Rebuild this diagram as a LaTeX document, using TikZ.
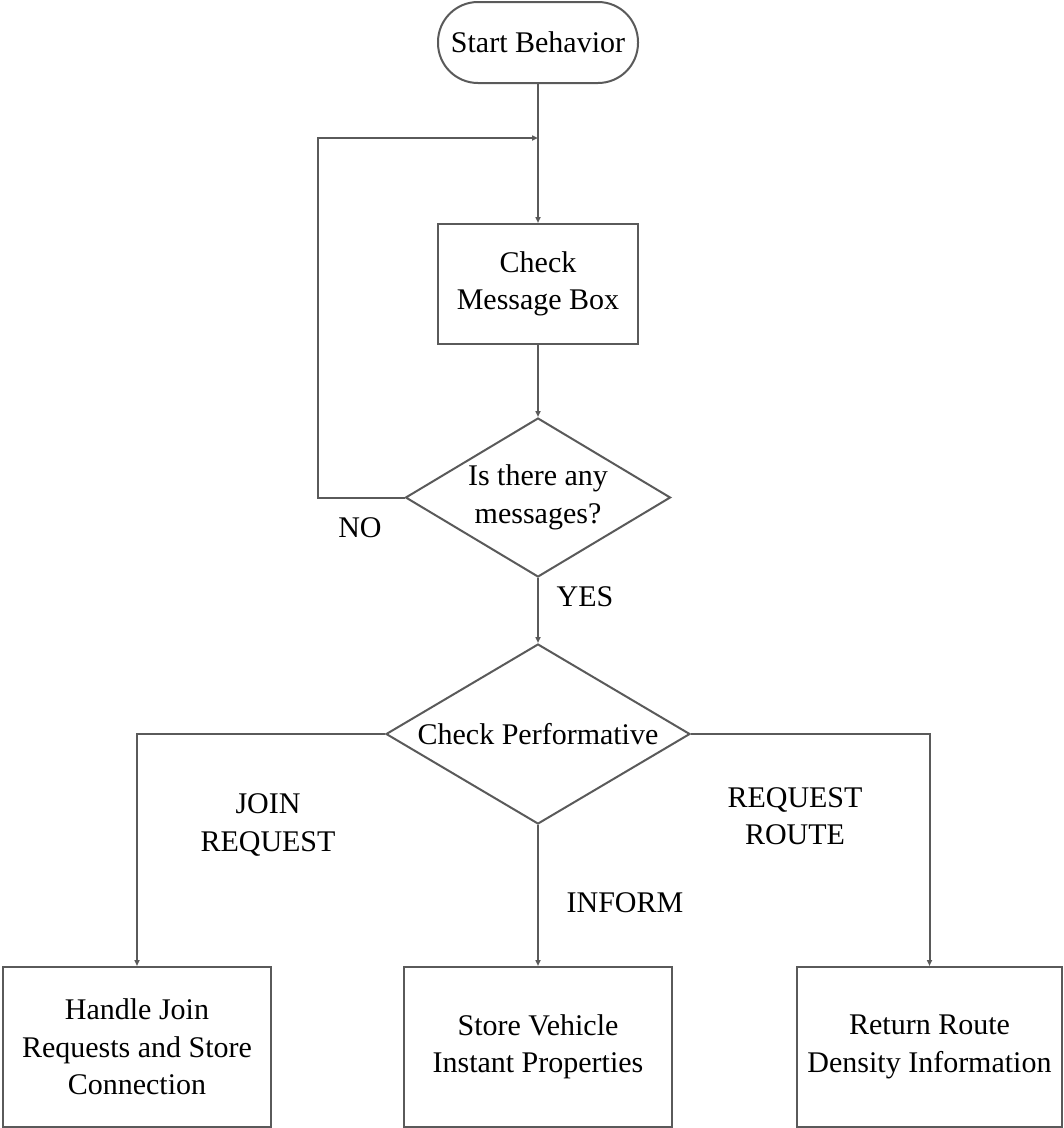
\documentclass[tikz,border=0pt]{standalone}
\usepackage{fontspec}
\setmainfont{Liberation Serif}
\usetikzlibrary{shapes.geometric,arrows.meta}
\begin{document}
\begin{tikzpicture}[x=1pt,y=-1pt,
  every node/.style={font=\fontsize{30}{37.5}\selectfont, align=center, text=black},
  line/.style={draw=linegray, line width=2pt},
  arr/.style={line, -{Triangle[length=6pt,width=5pt]}},
  terminal/.style={line, rectangle, rounded corners=40pt, minimum width=200pt, minimum height=81pt, inner sep=0pt},
  procbox/.style={line, rectangle, minimum height=120pt, inner sep=0pt},
  decision/.style={line, diamond, inner sep=0pt},
  tag/.style={inner sep=0pt}]
\definecolor{linegray}{HTML}{5A5A5A}
\useasboundingbox (0,0) rectangle (1064,1128);

% flow nodes
\node[terminal] (start) at (538,42.5) {Start Behavior};
\node[procbox, minimum width=200pt] (check) at (538,284) {Check\\Message Box};
\node[decision, aspect=1.667, minimum width=265pt, minimum height=159pt] (msg) at (538,497.5) {Is there any\\messages?};
\node[decision, aspect=1.69, minimum width=304pt, minimum height=180pt] (perf) at (538,734) {Check Performative};
\node[procbox, minimum width=268pt, minimum height=160pt] (join) at (137,1047) {Handle Join\\Requests and Store\\Connection};
\node[procbox, minimum width=268pt, minimum height=160pt] (store) at (538,1047) {Store Vehicle\\Instant Properties};
\node[procbox, minimum width=265pt, minimum height=160pt] (route) at (929.5,1047) {Return Route\\Density Information};

% loop junction
\coordinate (merge) at (538,138);
\coordinate (loopcorner) at (318,138);

% connectors
\draw[arr] (start.south) -- (check.north);
\draw[arr] (check.south) -- (msg.north);
\draw[arr] (msg.west) -| (loopcorner) -- (merge);
\draw[arr] (msg.south) -- (perf.north);
\draw[arr] (perf.west) -| (join.north);
\draw[arr] (perf.south) -- (store.north);
\draw[arr] (perf.east) -| (route.north);

% branch labels
\node[tag] (no) at (360,528) {NO};
\node[tag] (yes) at (585,597) {YES};
\node[tag] (joinlbl) at (268,825) {JOIN\\REQUEST};
\node[tag] (informlbl) at (625,903) {INFORM};
\node[tag] (routelbl) at (795,816) {REQUEST\\ROUTE};
\end{tikzpicture}
\end{document}
